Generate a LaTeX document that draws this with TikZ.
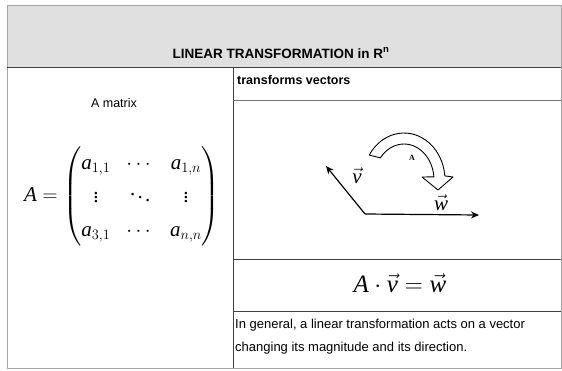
\documentclass[tikz,border=0pt]{standalone}
\usepackage{fontspec}
\usepackage{amsmath}
\setmainfont{Liberation Serif}
\setsansfont{Liberation Sans}
\usetikzlibrary{calc,arrows.meta}
\tikzset{
  frame/.style={draw=black!55, line width=0.7pt},
  rule/.style={draw=black!75, line width=0.9pt},
  lbl/.style={font=\sffamily\fontsize{13}{15}\selectfont, inner sep=0pt},
  vecline/.style={line width=1.2pt, -{Stealth[length=8pt,width=7pt]}},
  blockarrow/.style={draw=black, line width=0.9pt, fill=white, line join=round}
}
\begin{document}
\begin{tikzpicture}[x=1pt,y=-1pt]
\useasboundingbox (0,0) rectangle (562,370);
% header
\fill[black!12] (7,5) rectangle (561,67);
\draw[frame, draw=black!35] (7,5) rectangle (561,368);
\draw[rule] (7,67) -- (561,67);
\node[lbl, font=\sffamily\bfseries\fontsize{13.5}{15}\selectfont] (title) at (281,53) {LINEAR TRANSFORMATION in R\textsuperscript{n}};
% column divider
\draw[rule] (233,67) -- (233,368);
\draw[frame] (233,100) -- (561,100);
\draw[rule] (233,259) -- (561,259);
\draw[rule] (233,311) -- (561,311);
% left cell
\node[lbl, font=\sffamily\fontsize{12.5}{14}\selectfont] (amat) at (114,103) {A matrix};
\node[inner sep=0pt] (mat) at (122,196) {\fontsize{21}{25}\selectfont\renewcommand{\arraystretch}{1.35}\setlength{\arraycolsep}{8pt}%
 $\mathit{A}=\begin{pmatrix} \mathit{a}_{1,1} & \cdots & \mathit{a}_{1,n}\\ \vdots & \ddots & \vdots\\ \mathit{a}_{3,1} & \cdots & \mathit{a}_{n,n}\end{pmatrix}$};
% right top
\node[lbl, font=\sffamily\bfseries\fontsize{12.5}{14}\selectfont, anchor=west] (tv) at (237,80) {transforms vectors};
% vectors
\coordinate (O) at (365,214);
\coordinate (V) at (326,166);
\coordinate (W) at (479,215);
\draw[vecline] (O) -- (V);
\draw[vecline] (O) -- (W);
\node[inner sep=0pt] (vl) at (357,176) {\fontsize{21}{24}\selectfont$\vec{\mathit{v}}$};
\node[inner sep=0pt] (wl) at (441,203) {\fontsize{21}{24}\selectfont$\vec{\mathit{w}}$};
% curved block arrow
\coordinate (C) at (404,180);
\draw[blockarrow] ($(C)+(-148:41 and 47)$) arc[start angle=148, end angle=5, x radius=41pt, y radius=47pt]
  -- (453,177) -- (438,190) -- (422,177) -- ($(C)+(-5:30 and 36)$)
  arc[start angle=5, end angle=142, x radius=30pt, y radius=36pt] -- cycle;
\node[inner sep=0pt, font=\bfseries\fontsize{8}{9}\selectfont] (al) at (412,158) {A};
% equation
\node[inner sep=0pt] (eq) at (400,283) {\fontsize{25}{30}\selectfont$\mathit{A}\cdot\vec{\mathit{v}}=\vec{\mathit{w}}$};
% text
\node[lbl, anchor=west] (t1) at (235,325) {In general, a linear transformation acts on a vector};
\node[lbl, anchor=west] (t2) at (235,348) {changing its magnitude and its direction.};
\end{tikzpicture}
\end{document}
